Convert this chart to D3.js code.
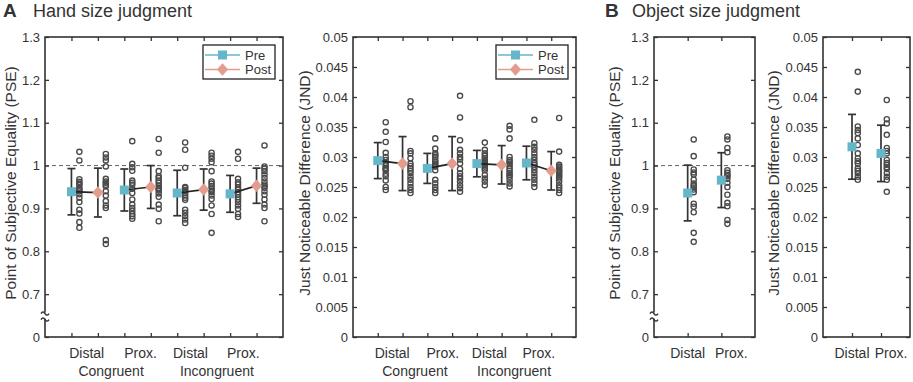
<!DOCTYPE html>
<html><head><meta charset="utf-8">
<script src="https://cdn.jsdelivr.net/npm/d3@7"></script>
<style>
body{margin:0;background:#fff}
svg{display:block}
text{font-family:"Liberation Sans",Arial,sans-serif;fill:#333}
</style>
</head><body>
<svg id="c" width="913" height="382"></svg>
<script>
// ---------- DATA ----------
const handConditions = ["Distal", "Prox.", "Distal", "Prox."];
const handGroups = ["Congruent", "Incongruent"];
const objectConditions = ["Distal", "Prox."];
const sessions = ["Pre", "Post"];

const pseTickValues = [0.6, 0.7, 0.8, 0.9, 1.0, 1.1, 1.2, 1.3];
const pseTickLabels = ["0", "0.7", "0.8", "0.9", "1", "1.1", "1.2", "1.3"];
const jndTickValues = [0, 0.005, 0.01, 0.015, 0.02, 0.025, 0.03, 0.035, 0.04, 0.045, 0.05];
const jndTickLabels = ["0", "0.005", "0.01", "0.015", "0.02", "0.025", "0.03", "0.035", "0.04", "0.045", "0.05"];

// Hand size judgment – PSE
const handPsePreMean = [0.939, 0.943, 0.936, 0.934];
const handPsePreSD = [0.054, 0.049, 0.053, 0.043];
const handPsePostMean = [0.937, 0.950, 0.944, 0.953];
const handPsePostSD = [0.057, 0.050, 0.048, 0.041];
const handPsePreDots = [
  [1.032, 1.012, 0.968, 0.962, 0.955, 0.948, 0.940, 0.933, 0.925, 0.915, 0.897, 0.888, 0.868, 0.855, 0.944, 0.958],
  [1.057, 1.004, 0.996, 0.988, 0.965, 0.960, 0.946, 0.936, 0.921, 0.909, 0.901, 0.894, 0.887, 0.882, 0.876, 0.955],
  [1.054, 1.037, 0.995, 0.948, 0.943, 0.936, 0.930, 0.925, 0.897, 0.890, 0.882, 0.874, 0.866, 0.940, 0.950, 0.920],
  [1.032, 1.016, 0.969, 0.961, 0.956, 0.949, 0.944, 0.938, 0.932, 0.926, 0.921, 0.915, 0.907, 0.899, 0.887, 0.880]
];
const handPsePostDots = [
  [1.027, 1.019, 1.012, 0.998, 0.969, 0.963, 0.960, 0.952, 0.940, 0.930, 0.917, 0.907, 0.901, 0.826, 0.817, 0.955],
  [1.062, 1.030, 0.987, 0.971, 0.965, 0.960, 0.953, 0.948, 0.942, 0.935, 0.927, 0.909, 0.899, 0.870, 0.975, 0.945],
  [1.030, 1.023, 1.016, 1.008, 0.987, 0.963, 0.952, 0.946, 0.938, 0.930, 0.922, 0.907, 0.887, 0.843, 0.958, 0.942],
  [1.047, 0.998, 0.993, 0.987, 0.979, 0.971, 0.963, 0.956, 0.948, 0.940, 0.932, 0.921, 0.909, 0.901, 0.870, 0.952]
];

// Hand size judgment – JND
const handJndPreMean = [0.0294, 0.0281, 0.0289, 0.0290];
const handJndPreSD = [0.0030, 0.0025, 0.0022, 0.0028];
const handJndPostMean = [0.0289, 0.0289, 0.0287, 0.0277];
const handJndPostSD = [0.0045, 0.0045, 0.0032, 0.0032];
const handJndPreDots = [
  [0.0358, 0.0342, 0.0325, 0.0307, 0.0290, 0.0286, 0.0282, 0.0278, 0.0268, 0.0261, 0.0250, 0.0245, 0.0295, 0.0280, 0.0272, 0.0300],
  [0.0331, 0.0314, 0.0306, 0.0300, 0.0295, 0.0289, 0.0284, 0.0262, 0.0256, 0.0250, 0.0245, 0.0240, 0.0292, 0.0286, 0.0278, 0.0303],
  [0.0324, 0.0312, 0.0306, 0.0302, 0.0298, 0.0292, 0.0287, 0.0281, 0.0264, 0.0259, 0.0253, 0.0295, 0.0289, 0.0284, 0.0278, 0.0270],
  [0.0362, 0.0323, 0.0317, 0.0312, 0.0306, 0.0287, 0.0278, 0.0273, 0.0267, 0.0262, 0.0256, 0.0250, 0.0295, 0.0290, 0.0283, 0.0300]
];
const handJndPostDots = [
  [0.0393, 0.0383, 0.0310, 0.0306, 0.0289, 0.0281, 0.0273, 0.0267, 0.0262, 0.0256, 0.0250, 0.0245, 0.0240, 0.0298, 0.0285, 0.0277],
  [0.0402, 0.0366, 0.0328, 0.0306, 0.0300, 0.0289, 0.0273, 0.0264, 0.0259, 0.0253, 0.0248, 0.0242, 0.0296, 0.0280, 0.0268, 0.0312],
  [0.0352, 0.0346, 0.0331, 0.0295, 0.0289, 0.0281, 0.0273, 0.0267, 0.0262, 0.0256, 0.0251, 0.0285, 0.0277, 0.0300, 0.0292, 0.0270],
  [0.0365, 0.0309, 0.0287, 0.0281, 0.0276, 0.0270, 0.0264, 0.0259, 0.0253, 0.0245, 0.0240, 0.0284, 0.0278, 0.0273, 0.0267, 0.0249]
];

// Object size judgment
const objPseMean = [0.936, 0.966];
const objPseSD = [0.065, 0.064];
const objPseDots = [
  [1.061, 1.022, 0.991, 0.984, 0.979, 0.967, 0.953, 0.944, 0.938, 0.911, 0.904, 0.891, 0.843, 0.822, 0.949, 0.958],
  [1.068, 1.061, 1.041, 1.031, 0.989, 0.983, 0.975, 0.969, 0.932, 0.913, 0.905, 0.873, 0.864, 0.950, 0.960, 0.978]
];
const objJndMean = [0.0317, 0.0306];
const objJndSD = [0.0054, 0.0047];
const objJndDots = [
  [0.0442, 0.0409, 0.0351, 0.0345, 0.0340, 0.0331, 0.0306, 0.0298, 0.0289, 0.0281, 0.0273, 0.0267, 0.0262, 0.0320, 0.0293, 0.0277],
  [0.0395, 0.0363, 0.0356, 0.0337, 0.0315, 0.0306, 0.0295, 0.0287, 0.0280, 0.0273, 0.0267, 0.0262, 0.0242, 0.0310, 0.0290, 0.0283]
];

// ---------- STYLE ----------
const preColor = "#66b6ca";
const postColor = "#e39d8e";
const axisColor = "#333";
const dotColor = "#4a4a4a";

const svg = d3.select("#c");

function symbolPath(shape) {
  if (shape === "square") return d3.symbol(d3.symbolSquare, 81)();
  return "M0,-6.3L5.6,0L0,6.3L-5.6,0Z";
}

function drawPanel(cfg) {
  const x = d3.scaleLinear().domain(cfg.xDomain).range([cfg.left, cfg.right]);
  const y = d3.scaleLinear().domain([cfg.tickValues[0], cfg.tickValues[cfg.tickValues.length - 1]]).range([cfg.bottom, cfg.top]);
  const g = svg.append("g");

  if (cfg.refLine != null) {
    g.append("line")
      .attr("x1", cfg.left).attr("x2", cfg.right)
      .attr("y1", y(cfg.refLine)).attr("y2", y(cfg.refLine))
      .attr("stroke", "#666").attr("stroke-width", 1).attr("stroke-dasharray", "4,3");
  }

  const lab = cfg.tickLabels;
  const ax = [
    g.append("g").attr("transform", `translate(${cfg.left},0)`)
      .call(d3.axisLeft(y).tickValues(cfg.tickValues).tickFormat((d, i) => lab[i]).tickSizeInner(-4).tickSizeOuter(0).tickPadding(5)),
    g.append("g").attr("transform", `translate(${cfg.right},0)`)
      .call(d3.axisRight(y).tickValues(cfg.tickValues).tickFormat("").tickSizeInner(-4).tickSizeOuter(0)),
    g.append("g").attr("transform", `translate(0,${cfg.top})`)
      .call(d3.axisTop(x).tickValues(cfg.xTicks).tickFormat("").tickSizeInner(-4).tickSizeOuter(0)),
    g.append("g").attr("transform", `translate(0,${cfg.bottom})`)
      .call(d3.axisBottom(x).tickValues(cfg.xTicks).tickFormat("").tickSizeInner(-4).tickSizeOuter(0))
  ];
  ax.forEach(a => {
    a.select(".domain").remove();
    a.selectAll(".tick line").attr("stroke", axisColor).attr("stroke-width", 1.3);
    a.selectAll(".tick text").attr("font-size", 13).attr("fill", axisColor).style("font-family", '"Liberation Sans",Arial,sans-serif');
  });
  g.append("rect").attr("x", cfg.left).attr("y", cfg.top)
    .attr("width", cfg.right - cfg.left).attr("height", cfg.bottom - cfg.top)
    .attr("fill", "none").attr("stroke", axisColor).attr("stroke-width", 1.6);

  if (cfg.breakAt != null) {
    const yb = y(cfg.breakAt);
    g.append("rect").attr("x", cfg.left - 4).attr("y", yb - 3).attr("width", 8).attr("height", 6).attr("fill", "#fff");
    [-3, 3].forEach(dy => {
      g.append("path")
        .attr("d", `M${cfg.left - 4},${yb + dy + 1} q2,-3 4,0 t4,0`)
        .attr("fill", "none").attr("stroke", axisColor).attr("stroke-width", 1.5);
    });
  }

  g.append("text")
    .attr("transform", `translate(${cfg.yLabelX},${cfg.yLabelY}) rotate(-90)`)
    .attr("text-anchor", "middle").attr("font-size", 15.5).text(cfg.yLabel);

  const series = cfg.series;
  series.forEach(s => {
    s.dots.forEach((arr, i) => {
      g.selectAll(null).data(arr).enter().append("circle")
        .attr("cx", x(s.pos[i] + cfg.dotOffset)).attr("cy", d => y(d)).attr("r", 2.6)
        .attr("fill", "none").attr("stroke", dotColor).attr("stroke-width", 1.35);
    });
  });
  if (series.length === 2) {
    series[0].mean.forEach((m, i) => {
      g.append("line")
        .attr("x1", x(series[0].pos[i])).attr("y1", y(m))
        .attr("x2", x(series[1].pos[i])).attr("y2", y(series[1].mean[i]))
        .attr("stroke", "#222").attr("stroke-width", 1.7);
    });
  }
  series.forEach(s => {
    s.mean.forEach((m, i) => {
      const cx = x(s.pos[i]);
      const y1 = y(m + s.sd[i]), y0 = y(m - s.sd[i]);
      const eb = g.append("g").attr("stroke", axisColor).attr("stroke-width", 1.7);
      eb.append("line").attr("x1", cx).attr("x2", cx).attr("y1", y1).attr("y2", y0);
      eb.append("line").attr("x1", cx - 4).attr("x2", cx + 4).attr("y1", y1).attr("y2", y1);
      eb.append("line").attr("x1", cx - 4).attr("x2", cx + 4).attr("y1", y0).attr("y2", y0);
    });
  });
  series.forEach(s => {
    s.mean.forEach((m, i) => {
      g.append("path").attr("d", symbolPath(s.shape))
        .attr("transform", `translate(${x(s.pos[i])},${y(m)})`)
        .attr("fill", s.color);
    });
  });

  cfg.catLabels.forEach((c, i) => {
    g.append("text").attr("x", x(cfg.catPos[i])).attr("dx", cfg.catDx[i]).attr("y", 358)
      .attr("text-anchor", "middle").attr("font-size", 14).text(c);
  });
  (cfg.groupLabels || []).forEach((c, i) => {
    g.append("text").attr("x", x(cfg.groupPos[i])).attr("y", 376)
      .attr("text-anchor", "middle").attr("font-size", 14).text(c);
  });

  if (cfg.legend) {
    const lw = 72, lh = 34;
    const lx = cfg.right - 8 - lw, ly = cfg.top + 8;
    const lg = g.append("g");
    lg.append("rect").attr("x", lx).attr("y", ly).attr("width", lw).attr("height", lh)
      .attr("fill", "#fff").attr("stroke", "#222").attr("stroke-width", 1.3);
    series.forEach((s, k) => {
      const yy = ly + 10 + k * 14.5;
      lg.append("line").attr("x1", lx + 2).attr("x2", lx + 37).attr("y1", yy).attr("y2", yy)
        .attr("stroke", s.color).attr("stroke-width", 1.5);
      lg.append("path").attr("d", symbolPath(s.shape))
        .attr("transform", `translate(${lx + 19.5},${yy})`).attr("fill", s.color);
      lg.append("text").attr("x", lx + 42).attr("y", yy + 4.5).attr("font-size", 13).text(sessions[k]);
    });
  }
}

const handPrePos = handConditions.map((d, i) => 2 * i + 1);
const handPostPos = handConditions.map((d, i) => 2 * i + 2);
const handCatPos = handConditions.map((d, i) => 2 * i + 1.5);
const handGroupPos = handGroups.map((d, j) => 4 * j + 2.5);
const handXTicks = d3.range(1, 9);
const objPos = objectConditions.map((d, i) => i + 1);

drawPanel({
  left: 45, right: 283, top: 37, bottom: 337,
  xDomain: [0, 9], xTicks: handXTicks,
  tickValues: pseTickValues, tickLabels: pseTickLabels,
  refLine: 1, breakAt: 0.65,
  yLabel: "Point of Subjective Equality (PSE)", yLabelX: 16, yLabelY: 183,
  dotOffset: 0.3,
  series: [
    { pos: handPrePos, mean: handPsePreMean, sd: handPsePreSD, dots: handPsePreDots, color: preColor, shape: "square" },
    { pos: handPostPos, mean: handPsePostMean, sd: handPsePostSD, dots: handPsePostDots, color: postColor, shape: "diamond" }
  ],
  catLabels: handConditions, catPos: handCatPos, catDx: [2, 3, 0, 0],
  groupLabels: handGroups, groupPos: handGroupPos,
  legend: true
});

drawPanel({
  left: 353, right: 576, top: 37, bottom: 337,
  xDomain: [0, 9], xTicks: handXTicks,
  tickValues: jndTickValues, tickLabels: jndTickLabels,
  refLine: null, breakAt: null,
  yLabel: "Just Noticeable Difference (JND)", yLabelX: 310, yLabelY: 183,
  dotOffset: 0.32,
  series: [
    { pos: handPrePos, mean: handJndPreMean, sd: handJndPreSD, dots: handJndPreDots, color: preColor, shape: "square" },
    { pos: handPostPos, mean: handJndPostMean, sd: handJndPostSD, dots: handJndPostDots, color: postColor, shape: "diamond" }
  ],
  catLabels: handConditions, catPos: handCatPos, catDx: [2, 3, 0, 0],
  groupLabels: handGroups, groupPos: handGroupPos,
  legend: true
});

drawPanel({
  left: 654, right: 755, top: 37, bottom: 337,
  xDomain: [0, 3], xTicks: [1, 2],
  tickValues: pseTickValues, tickLabels: pseTickLabels,
  refLine: 1, breakAt: 0.65,
  yLabel: "Point of Subjective Equality (PSE)", yLabelX: 620, yLabelY: 183,
  dotOffset: 0.18,
  series: [
    { pos: objPos, mean: objPseMean, sd: objPseSD, dots: objPseDots, color: preColor, shape: "square" }
  ],
  catLabels: objectConditions, catPos: objPos, catDx: [0, 10],
  legend: false
});

drawPanel({
  left: 823, right: 910, top: 37, bottom: 337,
  xDomain: [0, 3], xTicks: [1, 2],
  tickValues: jndTickValues, tickLabels: jndTickLabels,
  refLine: null, breakAt: null,
  yLabel: "Just Noticeable Difference (JND)", yLabelX: 779, yLabelY: 183,
  dotOffset: 0.2,
  series: [
    { pos: objPos, mean: objJndMean, sd: objJndSD, dots: objJndDots, color: preColor, shape: "square" }
  ],
  catLabels: objectConditions, catPos: objPos, catDx: [0, 10],
  legend: false
});

svg.append("text").attr("x", 3).attr("y", 17).attr("font-size", 19).attr("font-weight", "bold").attr("fill", "#222").text("A");
svg.append("text").attr("x", 33).attr("y", 17).attr("font-size", 18).attr("fill", "#222").text("Hand size judgment");
svg.append("text").attr("x", 605).attr("y", 17).attr("font-size", 19).attr("font-weight", "bold").attr("fill", "#222").text("B");
svg.append("text").attr("x", 632).attr("y", 17).attr("font-size", 18).attr("fill", "#222").text("Object size judgment");
</script>
</body></html>
